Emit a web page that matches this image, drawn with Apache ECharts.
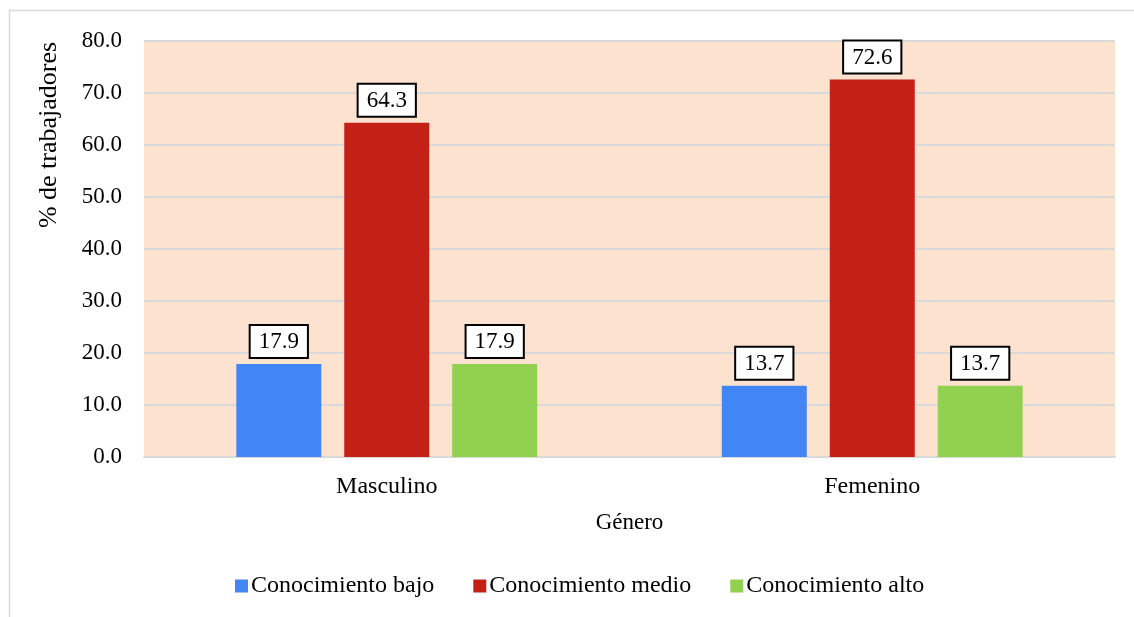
<!DOCTYPE html>
<html>
<head>
<meta charset="utf-8">
<script src="https://cdn.jsdelivr.net/npm/echarts@6/dist/echarts.min.js"></script>
<style>
  html, body { margin: 0; padding: 0; background: #fff; }
  #chart { width: 1134px; height: 617px; }
</style>
</head>
<body>
<div id="chart"></div>
<script>
// Knowledge level by gender (% of workers)
const categories = ['Masculino', 'Femenino'];
const seriesNames = ['Conocimiento bajo', 'Conocimiento medio', 'Conocimiento alto'];
const bajo = [17.9, 13.7];
const medio = [64.3, 72.6];
const alto = [17.9, 13.7];
const colors = ['#4285f4', '#c32116', '#92d050'];

const FONT = '"Liberation Serif", "Times New Roman", serif';

const chart = echarts.init(document.getElementById('chart'), null, { renderer: 'canvas' });

const label = {
  show: true,
  position: 'top',
  distance: 7,
  formatter: p => p.value.toFixed(1),
  fontFamily: FONT,
  fontSize: 23,
  lineHeight: 24,
  color: '#000',
  backgroundColor: '#fff',
  borderColor: '#000',
  borderWidth: 2,
  padding: [4, 8, 3, 8]
};

function makeSeries(name, data, i) {
  return {
    name: name,
    type: 'bar',
    data: data,
    barWidth: 85,
    barGap: '27%',
    barCategoryGap: '38%',
    itemStyle: { color: colors[i] },
    label: label
  };
}

chart.setOption({
  animation: false,
  graphic: [{
    type: 'rect',
    shape: { x: 9.5, y: 10.5, width: 1140, height: 640 },
    style: { fill: 'none', stroke: '#d9d9d9', lineWidth: 1.5 },
    silent: true
  }],
  grid: { left: 144, right: 19, top: 41, bottom: 160, containLabel: false,
          show: true, backgroundColor: '#fde3cf', borderWidth: 0 },
  legend: {
    bottom: 14,
    left: 230,
    itemWidth: 13,
    itemHeight: 13,
    itemGap: 39,
    icon: 'rect',
    textStyle: { fontFamily: FONT, fontSize: 24, color: '#000', padding: [0, 0, 0, -2] },
    data: seriesNames
  },
  xAxis: {
    type: 'category',
    data: categories,
    name: 'Género',
    nameLocation: 'middle',
    nameGap: 54,
    nameTextStyle: { fontFamily: FONT, fontSize: 23, color: '#000' },
    axisLine: { lineStyle: { color: '#d9d9d9', width: 2 } },
    axisTick: { show: false },
    axisLabel: { fontFamily: FONT, fontSize: 24, color: '#000', margin: 18 }
  },
  yAxis: {
    type: 'value',
    min: 0,
    max: 80,
    interval: 10,
    name: '% de trabajadores',
    nameLocation: 'middle',
    nameGap: 82,
    nameRotate: 90,
    nameTextStyle: { fontFamily: FONT, fontSize: 26, color: '#000', padding: [0, 0, 0, 228] },
    axisLine: { show: false },
    axisTick: { show: false },
    splitLine: { lineStyle: { color: '#d9d9d9', width: 2 } },
    axisLabel: { fontFamily: FONT, fontSize: 23, color: '#000', margin: 22,
                 formatter: v => v.toFixed(1) }
  },
  series: [
    makeSeries(seriesNames[0], bajo, 0),
    makeSeries(seriesNames[1], medio, 1),
    makeSeries(seriesNames[2], alto, 2)
  ]
});
</script>
</body>
</html>
